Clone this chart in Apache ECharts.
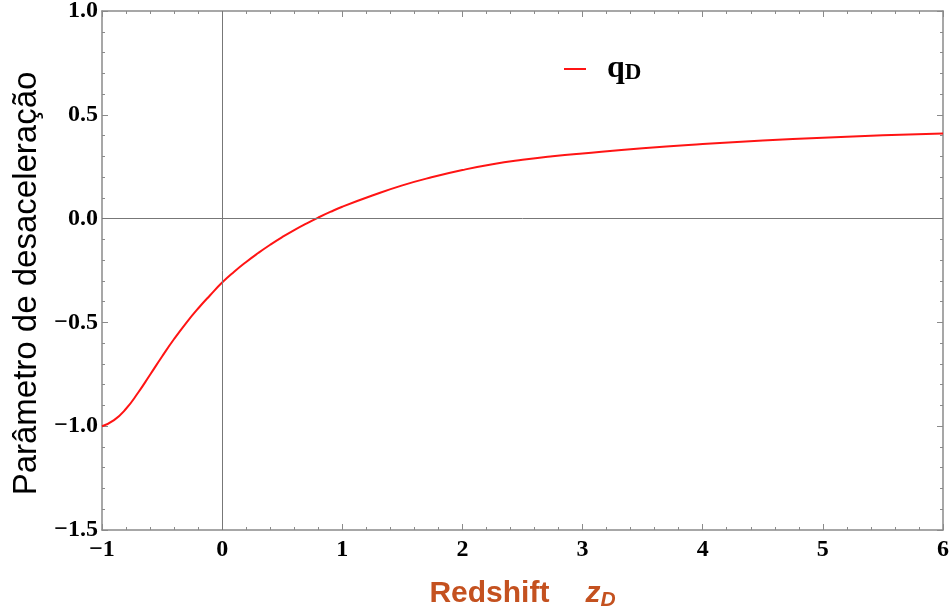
<!DOCTYPE html>
<html>
<head>
<meta charset="utf-8">
<script src="https://cdn.jsdelivr.net/npm/echarts@6/dist/echarts.min.js"></script>
<style>
  html, body { margin: 0; padding: 0; background: #fff; }
  #chart { width: 951px; height: 613px; }
</style>
</head>
<body>
<div id="chart"></div>
<script>
// redshift values and deceleration parameter
const redshift = [-1, -0.9, -0.8, -0.7, -0.6, -0.5, -0.4, -0.3, -0.2, -0.1, 0, 0.1, 0.2, 0.3, 0.4, 0.5, 0.6, 0.7, 0.8, 0.9, 1.0, 1.25, 1.5, 1.75, 2.0, 2.25, 2.5, 2.75, 3.0, 3.5, 4.0, 4.5, 5.0, 5.5, 6.0];
const qD = [-1.0, -0.971, -0.916, -0.839, -0.752, -0.664, -0.58, -0.503, -0.433, -0.369, -0.308, -0.256, -0.209, -0.166, -0.126, -0.089, -0.055, -0.024, 0.005, 0.032, 0.057, 0.111, 0.16, 0.2, 0.234, 0.262, 0.283, 0.3, 0.314, 0.339, 0.359, 0.376, 0.39, 0.401, 0.41];
const seriesName = "qD";

const data = redshift.map((x, i) => [x, qD[i]]);
const frameColor = "#8a8a8a";
const tickFont = {
  fontFamily: "Liberation Serif",
  fontWeight: "bold",
  fontSize: 24,
  color: "#000",
};
const minus = (s) => String(s).replace("-", "\u2212");

function frameAxis(extra) {
  return Object.assign(
    {
      type: "value",
      axisLine: { show: true, onZero: false, lineStyle: { color: frameColor, width: 1.5 } },
      axisTick: { show: true, inside: true, length: 6, lineStyle: { color: frameColor } },
      minorTick: { show: true, splitNumber: 5, length: 3, lineStyle: { color: frameColor } },
      splitLine: { show: false },
    },
    extra
  );
}

const myChart = echarts.init(document.getElementById("chart"));
myChart.setOption({
  backgroundColor: "#fff",
  animation: false,
  grid: { left: 102, right: 8, top: 11, bottom: 83, outerBoundsMode: "none" },
  legend: {
    left: 559,
    top: 48,
    icon: "rect",
    itemWidth: 22,
    itemHeight: 2,
    formatter: () => "{q|q}{d|D}",
    textStyle: {
      rich: {
        q: { fontFamily: "Liberation Serif", fontWeight: "bold", fontSize: 32, color: "#000", padding: [0, 0, 0, 16] },
        d: { fontFamily: "Liberation Serif", fontWeight: "bold", fontSize: 23, color: "#000", padding: [8, 0, 0, 0] },
      },
    },
  },
  xAxis: [
    frameAxis({
      min: -1,
      max: 6,
      interval: 1,
      position: "bottom",
      axisLabel: Object.assign({ margin: 8, formatter: minus }, tickFont),
      name: "{a|Redshift}{z|z}{d|D}",
      nameLocation: "middle",
      nameGap: 46,
      nameTextStyle: {
        rich: {
          a: { fontFamily: "Liberation Sans", fontWeight: "bold", fontSize: 30, color: "#c4511f" },
          z: { fontFamily: "Liberation Sans", fontWeight: "bold", fontStyle: "italic", fontSize: 30, color: "#c4511f", padding: [0, 0, 0, 36] },
          d: { fontFamily: "Liberation Sans", fontWeight: "bold", fontStyle: "italic", fontSize: 21, color: "#c4511f", padding: [14, 0, 0, 0] },
        },
      },
    }),
    frameAxis({
      min: -1,
      max: 6,
      interval: 1,
      position: "top",
      axisLabel: { show: false },
    }),
  ],
  yAxis: [
    frameAxis({
      min: -1.5,
      max: 1.0,
      interval: 0.5,
      position: "left",
      axisLabel: Object.assign(
        { margin: 4, formatter: (v) => minus(v.toFixed(1)) },
        tickFont
      ),
      name: "Parâmetro de desaceleração",
      nameLocation: "middle",
      nameGap: 58,
      nameTextStyle: { fontFamily: "Liberation Sans", fontSize: 33, color: "#000", padding: [0, 26, 0, 0] },
    }),
    frameAxis({
      min: -1.5,
      max: 1.0,
      interval: 0.5,
      position: "right",
      axisLabel: { show: false },
    }),
  ],
  series: [
    {
      name: seriesName,
      type: "line",
      data: data,
      smooth: 0.5,
      showSymbol: false,
      z: 3,
      itemStyle: { color: "rgb(255,20,20)" },
      lineStyle: { width: 2, color: "rgb(255,20,20)" },
      markLine: {
        silent: true,
        symbol: "none",
        label: { show: false },
        lineStyle: { color: "#777", width: 1, type: "solid" },
        data: [{ xAxis: 0 }, { yAxis: 0 }],
      },
    },
  ],
});
</script>
</body>
</html>
